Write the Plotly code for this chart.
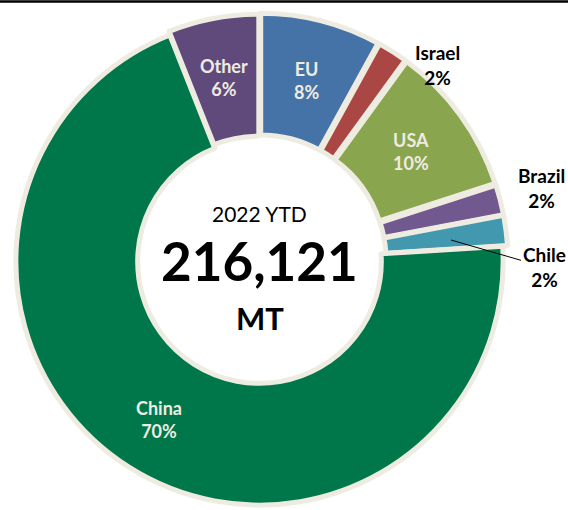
import math
import plotly.graph_objects as go

categories = ["EU", "Israel", "USA", "Brazil", "Chile", "China", "Other"]
shares = [8, 2, 10, 2, 2, 70, 6]
colors = ["#4572A7", "#AA4643", "#89A54E", "#71588F", "#4198AF", "#00774A", "#604A7B"]
inside_label = [True, False, True, False, False, True, True]
pulls = [0.02, 0.02, 0.02, 0.02, 0.02, 0.0, 0.015]
total_label = "216,121"
period_label = "2022 YTD"
unit_label = "MT"

BEIGE = "#EEECE1"
FONT = "Lato"

W, H = 568, 510
cx, cy = 259.5, 261.5
half = 248.5
label_r = 187

fig = go.Figure(go.Pie(
    labels=categories,
    values=shares,
    textinfo="none",
    sort=False,
    direction="clockwise",
    rotation=0,
    hole=0.5,
    pull=pulls,
    marker=dict(colors=colors, line=dict(color=BEIGE, width=5)),
    domain=dict(x=[(cx - half) / W, (cx + half) / W],
                y=[max(0.0, 1 - (cy + half) / H), min(1.0, 1 - (cy - half) / H)]),
    showlegend=False,
    hoverinfo="label+percent",
))


def px(x, y):
    return x / W, 1 - y / H


# inside labels placed at the mid-angle of each slice, in the middle of the ring
total = sum(shares)
cum = 0
for cat, s, ins in zip(categories, shares, inside_label):
    mid = (cum + s / 2) / total * 2 * math.pi
    cum += s
    if not ins:
        continue
    x, y = px(cx + label_r * math.sin(mid), cy - label_r * math.cos(mid))
    fig.add_annotation(x=x, y=y, xref="paper", yref="paper", xanchor="center", yanchor="middle",
                       text=f"<b>{cat}<br>{s}%</b>", showarrow=False,
                       font=dict(family=FONT, size=18, color=BEIGE))

# outside labels for the small slices
ix, iy = px(437, 65)
fig.add_annotation(x=ix, y=iy, xref="paper", yref="paper", xanchor="center", yanchor="middle",
                   text=f"<b>{categories[1]}<br>{shares[1]}%</b>",
                   showarrow=False, font=dict(family=FONT, size=19, color="black"))
bx, by = px(541, 188)
fig.add_annotation(x=bx, y=by, xref="paper", yref="paper", xanchor="center", yanchor="middle",
                   text=f"<b>{categories[3]}<br>{shares[3]}%</b>",
                   showarrow=False, font=dict(family=FONT, size=19, color="black"))
tx, ty = px(451, 240)
fig.add_annotation(x=tx, y=ty, xref="paper", yref="paper", xanchor="center", yanchor="middle",
                   text=f"<b>{categories[4]}<br>{shares[4]}%</b>",
                   showarrow=True, arrowhead=0, arrowwidth=1, arrowcolor="black", ax=93, ay=27,
                   standoff=0, font=dict(family=FONT, size=19, color="black"))

# centre text
for txt, ypix, size in [(period_label, 213, 21), (f"<b>{total_label}</b>", 260, 53),
                        (f"<b>{unit_label}</b>", 318, 31)]:
    fig.add_annotation(x=cx / W, y=1 - ypix / H, xref="paper", yref="paper",
                       xanchor="center", yanchor="middle", text=txt,
                       showarrow=False, font=dict(family=FONT, size=size, color="black"))

fig.add_shape(type="line", xref="paper", yref="paper", x0=0, x1=1, y0=1 - 1.5 / H, y1=1 - 1.5 / H,
              line=dict(color="black", width=2.5), layer="above")

fig.update_layout(width=W, height=H, margin=dict(l=0, r=0, t=0, b=0),
                  paper_bgcolor="white", plot_bgcolor="white")

fig.write_html("out.html", config={"displayModeBar": False},
               post_script="document.body.style.margin='0';document.body.style.overflow='hidden';")
